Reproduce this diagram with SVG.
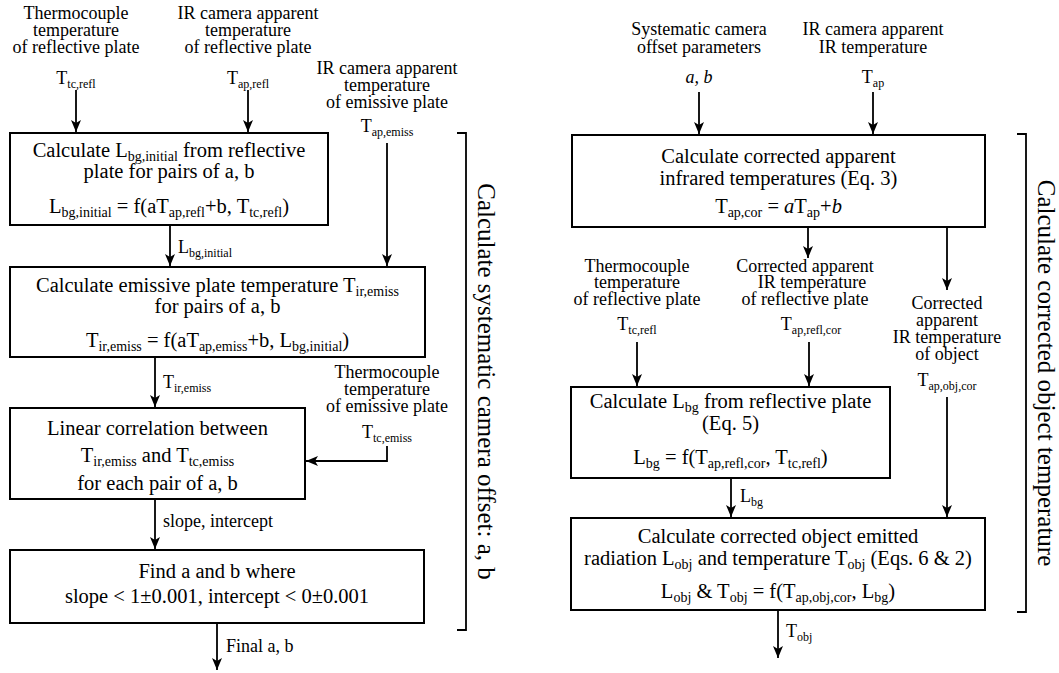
<svg xmlns="http://www.w3.org/2000/svg" width="1059" height="673" viewBox="0 0 1059 673">
<style>
text{font-family:"Liberation Serif","Times New Roman",serif;fill:#000}
.lb{font-size:18px;text-anchor:middle}
.ls{font-size:18px;text-anchor:start}
.bx{font-size:20.5px;text-anchor:middle}
.rt{font-size:25px;text-anchor:middle}
.s{font-size:12px}
.sb{font-size:14px}
.it{font-style:italic}
rect{fill:#fff;stroke:#000;stroke-width:2}
.c{fill:none;stroke:#000;stroke-width:1.8}
</style>
<defs>
<marker id="ah" markerUnits="userSpaceOnUse" markerWidth="14" markerHeight="12" refX="12" refY="5" orient="auto">
<path d="M0,0 L12,5 L0,10 L3,5 z" fill="#000"/>
</marker>
</defs>

<g id="connectors">
<line class="c" x1="76" y1="90" x2="76" y2="132" marker-end="url(#ah)"/>
<line class="c" x1="248" y1="90" x2="248" y2="132" marker-end="url(#ah)"/>
<line class="c" x1="387" y1="143" x2="387" y2="266" marker-end="url(#ah)"/>
<line class="c" x1="170" y1="225" x2="170" y2="266" marker-end="url(#ah)"/>
<line class="c" x1="155" y1="357" x2="155" y2="407" marker-end="url(#ah)"/>
<polyline class="c" points="387,446 387,461 306,461" marker-end="url(#ah)"/>
<line class="c" x1="155" y1="499" x2="155" y2="549" marker-end="url(#ah)"/>
<line class="c" x1="217" y1="623" x2="217" y2="670" marker-end="url(#ah)"/>
<path class="c" d="M457,133 H466 V630 H457"/>
<line class="c" x1="699" y1="92" x2="699" y2="134" marker-end="url(#ah)"/>
<line class="c" x1="873" y1="92" x2="873" y2="134" marker-end="url(#ah)"/>
<line class="c" x1="808" y1="227" x2="808" y2="258" marker-end="url(#ah)"/>
<line class="c" x1="947" y1="227" x2="947" y2="290" marker-end="url(#ah)"/>
<line class="c" x1="637" y1="342" x2="637" y2="386" marker-end="url(#ah)"/>
<line class="c" x1="809" y1="342" x2="809" y2="386" marker-end="url(#ah)"/>
<line class="c" x1="947" y1="397" x2="947" y2="517" marker-end="url(#ah)"/>
<line class="c" x1="731" y1="478" x2="731" y2="517" marker-end="url(#ah)"/>
<line class="c" x1="778" y1="610" x2="778" y2="658" marker-end="url(#ah)"/>
<path class="c" d="M1017,134 H1026 V612 H1017"/>
<text class="ls" x="178" y="253">L<tspan class="s" dy="4">bg,initial</tspan></text>
<text class="ls" x="163" y="388">T<tspan class="s" dy="4">ir,emiss</tspan></text>
<text class="ls" x="163" y="527">slope, intercept</text>
<text class="ls" x="226" y="652">Final a, b</text>
<text class="ls" x="740" y="502">L<tspan class="s" dy="4">bg</tspan></text>
<text class="ls" x="786" y="637">T<tspan class="s" dy="4">obj</tspan></text>
</g>

<g id="in-tc-refl">
<text class="lb" x="76" y="19">Thermocouple</text>
<text class="lb" x="76" y="36">temperature</text>
<text class="lb" x="76" y="53">of reflective plate</text>
<text class="lb" x="76" y="84">T<tspan class="s" dy="4">tc,refl</tspan></text>
</g>
<g id="in-ap-refl">
<text class="lb" x="248" y="19">IR camera apparent</text>
<text class="lb" x="248" y="36">temperature</text>
<text class="lb" x="248" y="53">of reflective plate</text>
<text class="lb" x="248" y="84">T<tspan class="s" dy="4">ap,refl</tspan></text>
</g>
<g id="in-ap-emiss">
<text class="lb" x="387" y="74">IR camera apparent</text>
<text class="lb" x="387" y="91">temperature</text>
<text class="lb" x="387" y="108">of emissive plate</text>
<text class="lb" x="387" y="132">T<tspan class="s" dy="4">ap,emiss</tspan></text>
</g>
<g id="in-tc-emiss">
<text class="lb" x="387" y="378">Thermocouple</text>
<text class="lb" x="387" y="395">temperature</text>
<text class="lb" x="387" y="412">of emissive plate</text>
<text class="lb" x="387" y="438">T<tspan class="s" dy="4">tc,emiss</tspan></text>
</g>

<g id="box1">
<rect x="10" y="133" width="318" height="92"/>
<text class="bx" x="169" y="157">Calculate L<tspan class="sb" dy="4">bg,initial</tspan><tspan dy="-4"> from reflective</tspan></text>
<text class="bx" x="169" y="178">plate for pairs of a, b</text>
<text class="bx" x="169" y="213">L<tspan class="sb" dy="4">bg,initial</tspan><tspan dy="-4"> = f(aT</tspan><tspan class="sb" dy="4">ap,refl</tspan><tspan dy="-4">+b, T</tspan><tspan class="sb" dy="4">tc,refl</tspan><tspan dy="-4">)</tspan></text>
</g>
<g id="box2">
<rect x="10" y="267" width="415" height="90"/>
<text class="bx" x="217.5" y="292">Calculate emissive plate temperature T<tspan class="sb" dy="4">ir,emiss</tspan></text>
<text class="bx" x="217.5" y="313">for pairs of a, b</text>
<text class="bx" x="217.5" y="347">T<tspan class="sb" dy="4">ir,emiss</tspan><tspan dy="-4"> = f(aT</tspan><tspan class="sb" dy="4">ap,emiss</tspan><tspan dy="-4">+b, L</tspan><tspan class="sb" dy="4">bg,initial</tspan><tspan dy="-4">)</tspan></text>
</g>
<g id="box3">
<rect x="10" y="408" width="295" height="91"/>
<text class="bx" x="157.5" y="435">Linear correlation between</text>
<text class="bx" x="157.5" y="462">T<tspan class="sb" dy="4">ir,emiss</tspan><tspan dy="-4"> and T</tspan><tspan class="sb" dy="4">tc,emiss</tspan></text>
<text class="bx" x="157.5" y="490">for each pair of a, b</text>
</g>
<g id="box4">
<rect x="10" y="550" width="414" height="73"/>
<text class="bx" x="217" y="578">Find a and b where</text>
<text class="bx" x="217" y="603">slope &lt; 1±0.001, intercept &lt; 0±0.001</text>
</g>
<g id="label-left">
<text class="rt" transform="translate(478,381.5) rotate(90)">Calculate systematic camera offset: a, b</text>
</g>

<g id="in-ab">
<text class="lb" x="699" y="35">Systematic camera</text>
<text class="lb" x="699" y="53">offset parameters</text>
<text class="lb it" x="699" y="83">a, b</text>
</g>
<g id="in-ap">
<text class="lb" x="873" y="35">IR camera apparent</text>
<text class="lb" x="873" y="53">IR temperature</text>
<text class="lb" x="873" y="83">T<tspan class="s" dy="4">ap</tspan></text>
</g>
<g id="box5">
<rect x="572" y="135" width="413" height="92"/>
<text class="bx" x="778.5" y="163">Calculate corrected apparent</text>
<text class="bx" x="778.5" y="185">infrared temperatures (Eq. 3)</text>
<text class="bx" x="778.5" y="213">T<tspan class="sb" dy="4">ap,cor</tspan><tspan dy="-4"> = </tspan><tspan class="it">a</tspan>T<tspan class="sb" dy="4">ap</tspan><tspan dy="-4">+</tspan><tspan class="it">b</tspan></text>
</g>
<g id="in-tc-refl2">
<text class="lb" x="637" y="272">Thermocouple</text>
<text class="lb" x="637" y="288">temperature</text>
<text class="lb" x="637" y="305">of reflective plate</text>
<text class="lb" x="637" y="330">T<tspan class="s" dy="4">tc,refl</tspan></text>
</g>
<g id="in-ap-refl-cor">
<text class="lb" x="805" y="272">Corrected apparent</text>
<text class="lb" x="812" y="288">IR temperature</text>
<text class="lb" x="805" y="305">of reflective plate</text>
<text class="lb" x="811" y="330">T<tspan class="s" dy="4">ap,refl,cor</tspan></text>
</g>
<g id="in-ap-obj-cor">
<text class="lb" x="947" y="309">Corrected</text>
<text class="lb" x="947" y="326">apparent</text>
<text class="lb" x="947" y="343">IR temperature</text>
<text class="lb" x="947" y="360">of object</text>
<text class="lb" x="947" y="386">T<tspan class="s" dy="4">ap,obj,cor</tspan></text>
</g>
<g id="box6">
<rect x="571" y="387" width="319" height="91"/>
<text class="bx" x="730.5" y="408">Calculate L<tspan class="sb" dy="4">bg</tspan><tspan dy="-4"> from reflective plate</tspan></text>
<text class="bx" x="730.5" y="430">(Eq. 5)</text>
<text class="bx" x="730.5" y="464">L<tspan class="sb" dy="4">bg</tspan><tspan dy="-4"> = f(T</tspan><tspan class="sb" dy="4">ap,refl,cor</tspan><tspan dy="-4">, T</tspan><tspan class="sb" dy="4">tc,refl</tspan><tspan dy="-4">)</tspan></text>
</g>
<g id="box7">
<rect x="571" y="518" width="414" height="92"/>
<text class="bx" x="778" y="543">Calculate corrected object emitted</text>
<text class="bx" x="778" y="565">radiation L<tspan class="sb" dy="4">obj</tspan><tspan dy="-4"> and temperature T</tspan><tspan class="sb" dy="4">obj</tspan><tspan dy="-4"> (Eqs. 6 &amp; 2)</tspan></text>
<text class="bx" x="778" y="598">L<tspan class="sb" dy="4">obj</tspan><tspan dy="-4"> &amp; T</tspan><tspan class="sb" dy="4">obj</tspan><tspan dy="-4"> = f(T</tspan><tspan class="sb" dy="4">ap,obj,cor</tspan><tspan dy="-4">, L</tspan><tspan class="sb" dy="4">bg</tspan><tspan dy="-4">)</tspan></text>
</g>
<g id="label-right">
<text class="rt" transform="translate(1038,373) rotate(90)">Calculate corrected object temperature</text>
</g>
</svg>
